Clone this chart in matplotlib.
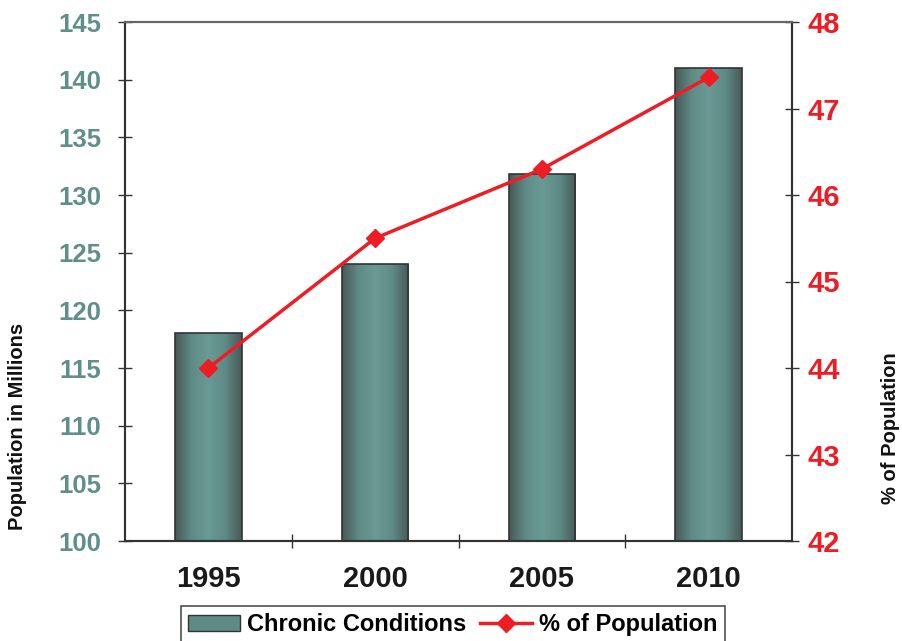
import matplotlib
matplotlib.use("Agg")
import matplotlib.pyplot as plt
import numpy as np
from matplotlib.colors import LinearSegmentedColormap
from matplotlib.patches import Patch
from matplotlib.lines import Line2D

years = ["1995", "2000", "2005", "2010"]
chronic = [118, 124, 131.8, 141]
pct = [44.0, 45.5, 46.3, 47.36]

plt.rcParams['font.family'] = ['Liberation Sans', 'DejaVu Sans']

fig = plt.figure(figsize=(9.02, 6.41), dpi=100)
ax = fig.add_axes([125/902, 1-541/641, (792-125)/902, (541-22)/641])
ax2 = ax.twinx()

x = np.arange(len(years))
width = 0.4
cmap = LinearSegmentedColormap.from_list("bar", ["#485a58", "#5f8b86", "#6a9a95", "#5f8b86", "#485a58"])
bars = ax.bar(x, chronic, width, color="#5f8b86", edgecolor="#333333", linewidth=1.2, zorder=2)
grad = np.linspace(0, 1, 256).reshape(1, -1)
for b in bars:
    bx, by = b.get_x(), b.get_y()
    w, h = b.get_width(), b.get_height()
    im = ax.imshow(grad, cmap=cmap, extent=[bx, bx + w, 100, by + h], aspect='auto', zorder=2.5)
    im.set_clip_path(b)
    b.set_facecolor("none")
    b.set_zorder(3)

ax.set_xlim(-0.5, 3.5)
ax.set_ylim(100, 145)
ax.set_yticks(np.arange(100, 146, 5))
ax.set_xticks(x)
ax.set_xticklabels(years, fontsize=21, fontweight='bold', color='#1a1a1a')
ax.set_xticks(np.arange(0.5, 3, 1), minor=True)
ax.tick_params(axis='x', which='major', length=0, pad=17)
ax.tick_params(axis='x', which='minor', direction='inout', length=10, width=1, color='#333333')
ax.tick_params(axis='y', direction='inout', length=10, width=1, color='#333333',
               labelsize=18.5, labelcolor='#5f8f8a', pad=12)
for t in ax.get_yticklabels():
    t.set_fontweight('bold')

ax2.plot(x, pct, color='#ee1c24', linewidth=2.5, marker='D', markersize=9, zorder=5)
ax2.set_ylim(42, 48)
ax2.set_yticks(np.arange(42, 49, 1))
ax2.tick_params(axis='y', direction='inout', length=10, width=1, color='#333333',
                labelsize=21, labelcolor='#ee1c24', pad=6)
for t in ax2.get_yticklabels():
    t.set_fontweight('bold')

for a in (ax, ax2):
    a.spines['top'].set_color('#666666')
    a.spines['top'].set_linewidth(1.5)
    for s in ('left', 'right', 'bottom'):
        a.spines[s].set_color('#333333')
        a.spines[s].set_linewidth(1.5)
ax.set_zorder(1)
ax2.set_zorder(2)
ax2.patch.set_visible(False)

fig.text(18/902, 1-426/641, "Population in Millions", rotation=90, ha='center', va='center',
         fontsize=14.5, fontweight='bold', color='#111111')
fig.text(890/902, 1-428/641, "% of Population", rotation=90, ha='center', va='center',
         fontsize=14.5, fontweight='bold', color='#111111')

handles = [Patch(facecolor='#5f8b86', edgecolor='#333333'),
           Line2D([0], [0], color='#ee1c24', lw=2.5, marker='D', markersize=9)]
leg = fig.legend(handles, ["Chronic Conditions", "% of Population"], loc='upper center',
                 bbox_to_anchor=(453/902, 1-606/641), ncol=2, frameon=True, fancybox=False,
                 prop={'weight': 'bold', 'size': 17}, handlelength=2.2, handletextpad=0.3,
                 columnspacing=0.6, borderpad=0.3, borderaxespad=0)
leg.get_frame().set_edgecolor('#222222')
leg.get_frame().set_linewidth(1.2)

fig.savefig("out.png", dpi=100)
